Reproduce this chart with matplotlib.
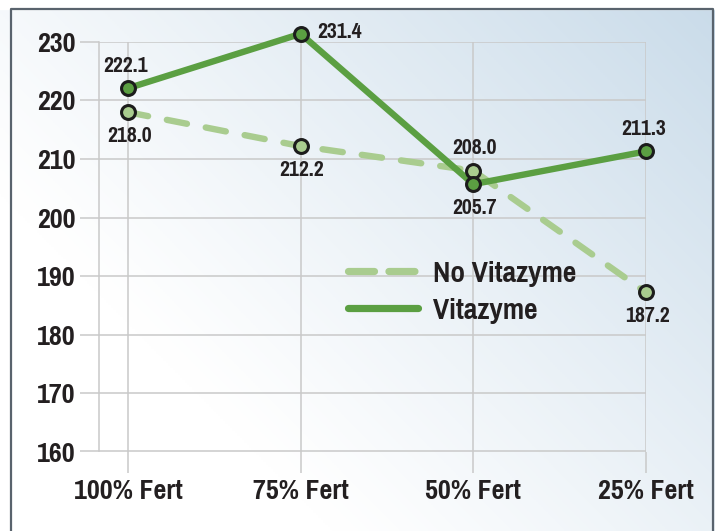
import numpy as np
import matplotlib
matplotlib.use("Agg")
import matplotlib.pyplot as plt
from matplotlib import font_manager
from matplotlib.font_manager import FontProperties
from matplotlib.lines import Line2D

# data
categories = ["100% Fert", "75% Fert", "50% Fert", "25% Fert"]
no_vitazyme = [218.0, 212.2, 208.0, 187.2]
vitazyme = [222.1, 231.4, 205.7, 211.3]
yticks = [160, 170, 180, 190, 200, 210, 220, 230]


def pick_font():
    # look for a condensed / narrow bold face
    best = None
    for f in font_manager.fontManager.ttflist:
        narrow = ("Narrow" in f.name or "Condensed" in f.name
                  or str(f.stretch) in ("condensed", "semi-condensed", "extra-condensed"))
        w = f.weight if isinstance(f.weight, int) else 400
        if narrow and w >= 600 and f.style == "normal":
            if best is None or "Narrow" in f.name:
                best = f
    return best


found = pick_font()
FNAME = found.fname if found else None


def fp(size):
    if FNAME:
        return FontProperties(fname=FNAME, size=size)
    return FontProperties(family="DejaVu Sans", weight="bold", size=size, stretch="condensed")


TXT = "#231f20"
GREEN = "#5b9f42"
LIGHT = "#a9cc8f"
GRID = "#c9c9c9"

W, H = 715, 531
fig = plt.figure(figsize=(W / 100, H / 100), dpi=100)

# background gradient
bg = fig.add_axes([0, 0, 1, 1], zorder=0)
u = np.linspace(0, 1, 300)[None, :]
v = np.linspace(1, 0, 220)[:, None]
t = np.clip(0.75 * u + 0.55 * v - 0.35, 0, 1) ** 1.1
c0 = np.array([1.0, 1.0, 1.0])
c1 = np.array([0xc6, 0xd9, 0xe8]) / 255
img = c0[None, None, :] * (1 - t[..., None]) + c1[None, None, :] * t[..., None]
bg.imshow(img, extent=[0, W, 0, H], aspect="auto")
bg.fill_between([0, W], H - 9, H, color="white")
# orange bar fading out
ox = np.linspace(0, W, 715)
alpha = np.clip((500 - ox) / 35, 0, 1)
orange = np.zeros((1, 715, 4))
orange[..., :3] = np.array([0xf9, 0xae, 0x3b]) / 255
orange[..., 3] = alpha
bg.imshow(orange, extent=[10, 10 + W, H - 9, H], aspect="auto")
# frame
bg.plot([11, 11, 713, 713], [0, H - 9, H - 9, 0], color="#59636d", lw=1.6)
bg.set_xlim(0, W)
bg.set_ylim(0, H)
bg.axis("off")

ax = fig.add_axes([99 / W, (H - 451.5) / H, 547 / W, 409.5 / H], zorder=1)
ax.patch.set_alpha(0)
x = np.arange(len(categories))

ax.plot(x, no_vitazyme, color=LIGHT, lw=4.6, dashes=(3.2, 3.0),
        dash_capstyle="round", zorder=3, clip_on=False)
ax.plot(x, vitazyme, color=GREEN, lw=4.6, solid_capstyle="round", zorder=4, clip_on=False)
ax.plot(x, no_vitazyme, ls="none", marker="o", ms=10, mfc=LIGHT,
        mec="#1c1c1c", mew=2.2, zorder=5, clip_on=False)
ax.plot(x, vitazyme, ls="none", marker="o", ms=10, mfc=GREEN,
        mec="#1c1c1c", mew=2.2, zorder=6, clip_on=False)

# value labels
lab_kw = dict(fontproperties=fp(17), color=TXT, zorder=7, annotation_clip=False,
              textcoords="offset points")
above_v = [True, None, False, True]
for i, val in enumerate(vitazyme):
    if above_v[i] is None:
        ax.annotate(f"{val:.1f}", (x[i], val), xytext=(12, 1), ha="left", va="center", **lab_kw)
    elif above_v[i]:
        ax.annotate(f"{val:.1f}", (x[i], val), xytext=(-2, 16), ha="center", va="center", **lab_kw)
    else:
        ax.annotate(f"{val:.1f}", (x[i], val), xytext=(1, -17), ha="center", va="center", **lab_kw)
above_n = [False, False, True, False]
for i, val in enumerate(no_vitazyme):
    dy = 16 if above_n[i] else -17
    ax.annotate(f"{val:.1f}", (x[i], val), xytext=(1, dy), ha="center", va="center", **lab_kw)

ax.set_xlim(-0.168, 3)
ax.set_ylim(160, 230)
ax.set_yticks(yticks)
ax.set_xticks(x)
ax.set_xticklabels(categories)
ax.grid(True, color=GRID, lw=1.1, zorder=1)
for s in ["top", "right", "bottom"]:
    ax.spines[s].set_visible(False)
ax.spines["left"].set_color(GRID)
ax.spines["left"].set_linewidth(1.1)
ax.tick_params(axis="y", length=14, width=1.1, color=GRID, pad=3, labelcolor=TXT)
ax.tick_params(axis="x", length=15, width=1.1, color=GRID, pad=5, labelcolor=TXT)
for lbl in ax.get_xticklabels() + ax.get_yticklabels():
    lbl.set_fontproperties(fp(22))

handles = [
    Line2D([], [], color=LIGHT, lw=5.2, dashes=(3.6, 2.0), dash_capstyle="round"),
    Line2D([], [], color=GREEN, lw=5.2, solid_capstyle="round"),
]
leg = ax.legend(handles, ["No Vitazyme", "Vitazyme"], loc="upper left",
                bbox_to_anchor=(0.455, 0.468), frameon=False, borderpad=0,
                borderaxespad=0, handlelength=2.2, handletextpad=0.45,
                labelspacing=0.29, prop=fp(23))
for txt in leg.get_texts():
    txt.set_color(TXT)

fig.savefig("out.png", dpi=100)
